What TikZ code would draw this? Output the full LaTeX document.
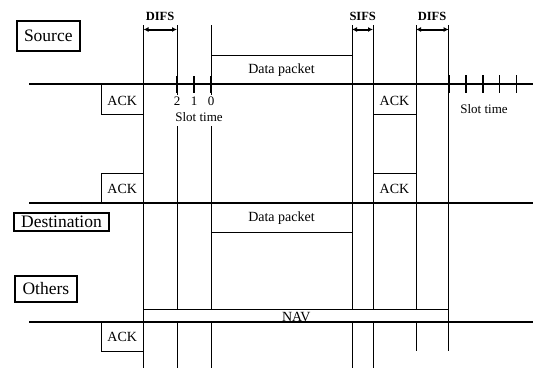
\documentclass[tikz,border=0pt]{standalone}
\usepackage{fontspec}
\setmainfont{Liberation Serif}
\usetikzlibrary{arrows.meta}
\begin{document}
\begin{tikzpicture}[x=1pt,y=-1pt,
  axis/.style={line width=1.7pt},
  vline/.style={line width=1pt},
  frame/.style={draw,line width=0.9pt,fill=white},
  role/.style={draw,line width=2.2pt,inner sep=0pt,font=\fontsize{17.5}{18}\selectfont},
  lbl/.style={font=\fontsize{14}{14}\selectfont,inner sep=0pt},
  small/.style={font=\fontsize{13}{13}\selectfont,inner sep=0pt},
  ifs/.style={font=\bfseries\fontsize{12.5}{12.5}\selectfont,inner sep=0pt},
  span/.style={{Latex[length=5pt,width=5pt]}-{Latex[length=5pt,width=5pt]},line width=2pt},
  slottick/.style={line width=1.8pt}]
\useasboundingbox (0,0) rectangle (539,368);
\def\Xa{143.5}\def\Xb{177}\def\Xc{211}\def\Xd{352}\def\Xe{373}\def\Xf{416}\def\Xg{448.7}
\def\Ys{84.3}\def\Yd{202.7}\def\Yo{321.7}
% vertical time lines
\draw[vline] (\Xa,25) -- (\Xa,368);
\draw[vline] (\Xb,25) -- (\Xb,95) (\Xb,126) -- (\Xb,368);
\draw[vline] (\Xc,25) -- (\Xc,95) (\Xc,126) -- (\Xc,368);
\draw[vline] (\Xd,25) -- (\Xd,368);
\draw[vline] (\Xe,25) -- (\Xe,368);
\draw[vline] (\Xf,25) -- (\Xf,351);
\draw[vline] (\Xg,25) -- (\Xg,351);
% frames
\draw[frame] (101,\Ys) rectangle (\Xa,114);
\draw[frame] (\Xc,55) rectangle (\Xd,\Ys);
\draw[frame] (\Xe,\Ys) rectangle (\Xf,114);
\draw[frame] (101,173.3) rectangle (\Xa,\Yd);
\draw[frame] (\Xe,173.3) rectangle (\Xf,\Yd);
\draw[frame] (\Xc,\Yd) rectangle (\Xd,232.7);
\draw[frame] (\Xa,309) rectangle (\Xg,\Yo);
\draw[frame] (101,\Yo) rectangle (\Xa,351);
% axes
\draw[axis] (29,\Ys) -- (533,\Ys);
\draw[axis] (29,\Yd) -- (533,\Yd);
\draw[axis] (29,\Yo) -- (533,\Yo);
% slot ticks
\foreach \t in {\Xb,194,\Xc} \draw[slottick] (\t,76) -- (\t,93);
\foreach \t in {\Xg,466,483,499.5,516.5} \draw[slottick] (\t,75) -- (\t,93);
% interval arrows
\draw[span] (\Xa,29.5) -- (\Xb,29.5);
\draw[span] (\Xd,29.5) -- (\Xe,29.5);
\draw[span] (\Xf,29.5) -- (\Xg,29.5);
\node[ifs] (difs1) at (160,16) {DIFS};
\node[ifs] (sifs) at (362.7,16) {SIFS};
\node[ifs] (difs2) at (432,16) {DIFS};
% role labels
\node[role,minimum width=63.3pt,minimum height=29.7pt] (src) at (48.3,35.9) {Source};
\node[role,minimum width=95pt,minimum height=18pt] (dst) at (61.5,221.7) {Destination};
\node[role,minimum width=61.7pt,minimum height=26pt] (oth) at (45.85,289) {Others};
% texts
\node[lbl] (dps) at (281.5,70.5) {Data packet};
\node[lbl] (dpd) at (281.5,218) {Data packet};
\node[lbl] (ack1) at (122.25,100.5) {ACK};
\node[lbl] (ack2) at (394.5,100.5) {ACK};
\node[lbl] (ack3) at (122.25,189) {ACK};
\node[lbl] (ack4) at (394.5,189) {ACK};
\node[lbl] (ack5) at (122.25,337) {ACK};
\node[small] (n2) at (\Xb,101) {2};
\node[small] (n1) at (194,101) {1};
\node[small] (n0) at (\Xc,101) {0};
\node[small] (st1) at (199,117) {Slot time};
\node[small] (st2) at (484,109) {Slot time};
\node[lbl,anchor=base] (nav) at (296.3,321) {NAV};
\end{tikzpicture}
\end{document}
